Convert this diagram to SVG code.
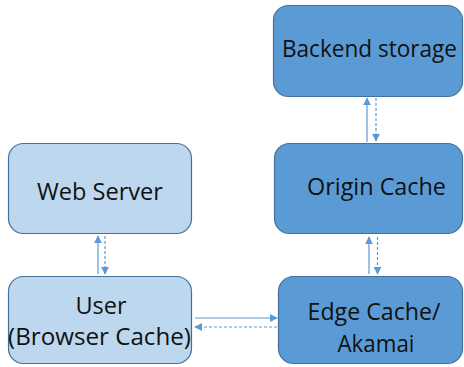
<svg xmlns="http://www.w3.org/2000/svg" width="464" height="367" viewBox="0 0 464 367">
  <defs>
    <marker id="head" viewBox="0 0 10 10" refX="9" refY="5" markerWidth="8" markerHeight="8" markerUnits="userSpaceOnUse" orient="auto">
      <path d="M0,0 L10,5 L0,10 z" fill="#5B9BD5"/>
    </marker>
    <style>
      .light { fill: #BDD7EE; stroke: #41719C; stroke-width: 1.2; }
      .dark { fill: #5B9BD5; stroke: #41719C; stroke-width: 1.2; }
      .label { font-family: "Open Sans", "Liberation Sans", sans-serif; font-size: 23.5px; fill: #111111; text-anchor: middle; }
      .req { stroke: #5B9BD5; stroke-width: 1.2; fill: none; marker-end: url(#head); }
      .resp { stroke: #5B9BD5; stroke-width: 1.2; fill: none; stroke-dasharray: 3 2; marker-end: url(#head); }
    </style>
  </defs>
  <rect width="464" height="367" fill="#FFFFFF"/>

  <g id="backend-storage">
    <rect class="dark" x="273.5" y="5.5" width="189" height="91" rx="15"/>
    <text class="label" x="369.5" y="57" textLength="175" lengthAdjust="spacingAndGlyphs">Backend storage</text>
  </g>
  <g id="origin-cache">
    <rect class="dark" x="274.5" y="143.5" width="188" height="90" rx="15"/>
    <text class="label" x="376.5" y="194.5" textLength="139" lengthAdjust="spacingAndGlyphs">Origin Cache</text>
  </g>
  <g id="edge-cache">
    <rect class="dark" x="278.5" y="276.5" width="184" height="87" rx="15"/>
    <text class="label" x="374" y="320" textLength="133" lengthAdjust="spacingAndGlyphs">Edge Cache/</text>
    <text class="label" x="376" y="352" textLength="77" lengthAdjust="spacingAndGlyphs">Akamai</text>
  </g>
  <g id="web-server">
    <rect class="light" x="8.5" y="143.5" width="183" height="90" rx="15"/>
    <text class="label" x="100" y="200" textLength="126" lengthAdjust="spacingAndGlyphs">Web Server</text>
  </g>
  <g id="user">
    <rect class="light" x="8.5" y="276.5" width="183" height="87" rx="15"/>
    <text class="label" x="101" y="314">User</text>
    <text class="label" x="99.5" y="345" textLength="183" lengthAdjust="spacingAndGlyphs">(Browser Cache)</text>
  </g>

  <g id="connectors">
    <!-- requests travel solid, responses come back dashed -->
    <line class="req" x1="98" y1="274" x2="98" y2="236"/>
    <line class="resp" x1="105" y1="236" x2="105" y2="274"/>
    <line class="req" x1="195" y1="318" x2="277" y2="318"/>
    <line class="resp" x1="277" y1="327" x2="195" y2="327"/>
    <line class="req" x1="369" y1="274" x2="369" y2="237"/>
    <line class="resp" x1="377.5" y1="237" x2="377.5" y2="274"/>
    <line class="req" x1="367" y1="142" x2="367" y2="98"/>
    <line class="resp" x1="376" y1="98" x2="376" y2="141"/>
  </g>
</svg>
